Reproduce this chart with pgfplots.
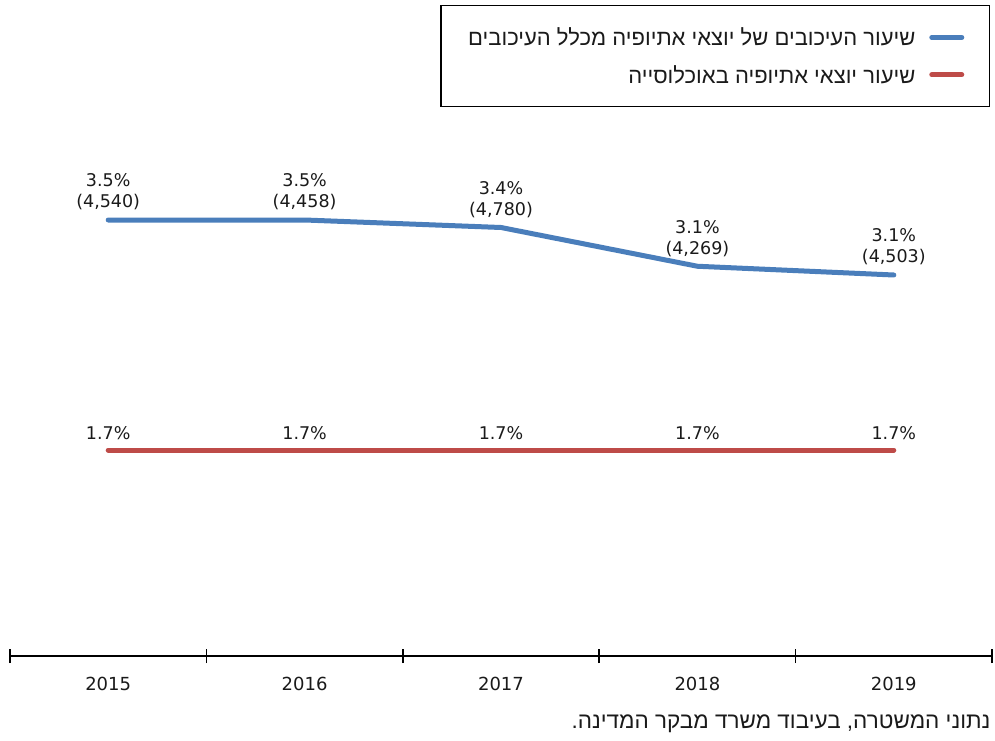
\documentclass[border=0pt]{standalone}
\usepackage{pgfplots}
\pgfplotsset{compat=1.18}
\usepackage{fontspec}
\setmainfont{DejaVu Sans}
\newfontfamily\hebfont[Script=Hebrew]{Liberation Sans}
\TeXXeTstate=1
\definecolor{cblue}{HTML}{4A7EBB}
\definecolor{cred}{HTML}{BE4B48}
\definecolor{ctext}{HTML}{1A1A1A}
\begin{document}
\begin{tikzpicture}
\path[use as bounding box] (-10pt,-84pt) rectangle (985pt,656pt);
\begin{axis}[
 scale only axis, width=982pt, height=651pt,
 xmin=-0.5, xmax=4.5, ymin=0.012, ymax=5.22,
 axis x line*=bottom, axis y line=none,
 axis line style={line width=1.4pt, black},
 xtick={0,1,2,3,4}, xticklabels={2015,2016,2017,2018,2019},
 major tick length=0pt,
 minor xtick={-0.5,0.5,1.5,2.5,3.5,4.5},
 minor tick length=14pt, xtick align=center,
 minor tick style={line width=1.5pt, black},
 xticklabel style={font=\fontsize{18}{20}\selectfont, text=ctext, yshift=-18pt},
 clip=false,
 nodes near coords, point meta=explicit symbolic,
 every node near coord/.append style={align=center, text=ctext, font=\fontsize{17.5}{21}\selectfont, yshift=4pt},
 legend style={at={(0.998,1)}, anchor=north east, draw=black, line width=1.5pt,
   inner xsep=25pt, inner ysep=20pt, row sep=14pt, column sep=12pt,
   font=\hebfont\fontsize{22}{26}\selectfont, text=ctext},
 legend plot pos=right, legend cell align=right,
 legend image code/.code={\draw[line width=5pt, line cap=round] (0pt,0pt) -- (30pt,0pt);},
]
\addplot[cblue, line width=5pt, line join=round, line cap=round] coordinates {
 (0,3.50)[3.5\%\\(4,540)]
 (1,3.50)[3.5\%\\(4,458)]
 (2,3.44)[3.4\%\\(4,780)]
 (3,3.13)[3.1\%\\(4,269)]
 (4,3.06)[3.1\%\\(4,503)]
};
\addlegendentry{\beginR שיעור העיכובים של יוצאי אתיופיה מכלל העיכובים\endR}
\addplot[cred, line width=5pt, line join=round, line cap=round] coordinates {
 (0,1.66)[1.7\%]
 (1,1.66)[1.7\%]
 (2,1.66)[1.7\%]
 (3,1.66)[1.7\%]
 (4,1.66)[1.7\%]
};
\addlegendentry{\beginR שיעור יוצאי אתיופיה באוכלוסייה\endR}
\end{axis}
\node[anchor=east, text=ctext, font=\hebfont\fontsize{22.5}{26}\selectfont] at (984pt,-68pt) {\beginR נתוני המשטרה, בעיבוד משרד מבקר המדינה.\endR};
\end{tikzpicture}
\end{document}
